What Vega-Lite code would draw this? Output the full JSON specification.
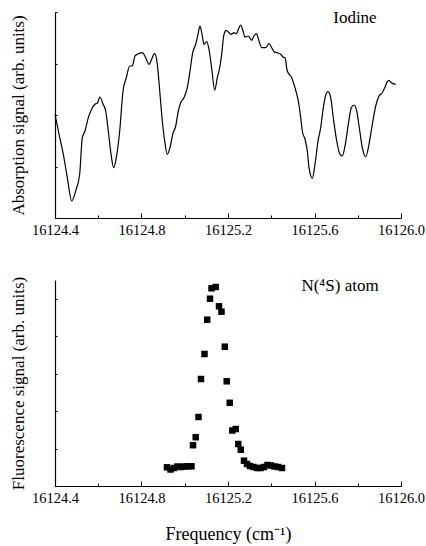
{
  "$schema": "https://vega.github.io/schema/vega-lite/v6.json",
  "background": "white",
  "padding": {"left": 9, "top": 8, "right": 0, "bottom": 0},
  "spacing": 37,
  "config": {
    "view": {"stroke": null},
    "font": "Liberation Serif",
    "text": {"font": "Liberation Serif"},
    "axis": {
      "domainColor": "black",
      "domainWidth": 1.2,
      "tickColor": "black",
      "tickWidth": 1,
      "grid": false,
      "labelFont": "Liberation Serif",
      "labelFontSize": 14.5,
      "labelColor": "black",
      "titleFont": "Liberation Serif",
      "titleFontWeight": "normal",
      "titleColor": "black"
    }
  },
  "datasets": {
    "iodine": [
      {"f": 16124.4000, "s": 103.7}, {"f": 16124.4185, "s": 84}, {"f": 16124.4416, "s": 60}, {"f": 16124.4569, "s": 40.3},
      {"f": 16124.4772, "s": 17}, {"f": 16124.4957, "s": 27}, {"f": 16124.5142, "s": 44}, {"f": 16124.5262, "s": 80.3},
      {"f": 16124.5387, "s": 87}, {"f": 16124.5540, "s": 100.3}, {"f": 16124.5725, "s": 110.3}, {"f": 16124.5882, "s": 114.3},
      {"f": 16124.5975, "s": 115.3}, {"f": 16124.6067, "s": 121}, {"f": 16124.6220, "s": 114}, {"f": 16124.6345, "s": 107},
      {"f": 16124.6465, "s": 87}, {"f": 16124.6590, "s": 64}, {"f": 16124.6714, "s": 50.3}, {"f": 16124.6835, "s": 60.3},
      {"f": 16124.6992, "s": 87}, {"f": 16124.7145, "s": 127}, {"f": 16124.7297, "s": 140.3}, {"f": 16124.7454, "s": 152},
      {"f": 16124.7575, "s": 152}, {"f": 16124.7699, "s": 162}, {"f": 16124.7806, "s": 163.7}, {"f": 16124.8037, "s": 165.3},
      {"f": 16124.8194, "s": 160.3}, {"f": 16124.8347, "s": 153.7}, {"f": 16124.8499, "s": 160.3}, {"f": 16124.8610, "s": 164.7},
      {"f": 16124.8731, "s": 153.7}, {"f": 16124.8856, "s": 123.7}, {"f": 16124.8962, "s": 97}, {"f": 16124.9073, "s": 77},
      {"f": 16124.9193, "s": 63.7}, {"f": 16124.9318, "s": 70.3}, {"f": 16124.9443, "s": 83.7}, {"f": 16124.9582, "s": 92},
      {"f": 16124.9702, "s": 107}, {"f": 16124.9813, "s": 115.3}, {"f": 16124.9965, "s": 120.3}, {"f": 16125.0118, "s": 130.3},
      {"f": 16125.0243, "s": 147}, {"f": 16125.0368, "s": 165.3}, {"f": 16125.0506, "s": 173.7}, {"f": 16125.0613, "s": 183.7},
      {"f": 16125.0705, "s": 192}, {"f": 16125.0798, "s": 183.7}, {"f": 16125.0890, "s": 173.7}, {"f": 16125.1015, "s": 176.3},
      {"f": 16125.1135, "s": 167}, {"f": 16125.1260, "s": 147}, {"f": 16125.1385, "s": 127.7}, {"f": 16125.1505, "s": 140.3},
      {"f": 16125.1630, "s": 152}, {"f": 16125.1707, "s": 163.7}, {"f": 16125.1815, "s": 183.7}, {"f": 16125.1921, "s": 187.7},
      {"f": 16125.2046, "s": 185.3}, {"f": 16125.2153, "s": 183.7}, {"f": 16125.2277, "s": 185.3}, {"f": 16125.2384, "s": 184.3},
      {"f": 16125.2509, "s": 190.3}, {"f": 16125.2587, "s": 193}, {"f": 16125.2694, "s": 187}, {"f": 16125.2786, "s": 181},
      {"f": 16125.2939, "s": 182}, {"f": 16125.3096, "s": 177.7}, {"f": 16125.3202, "s": 182}, {"f": 16125.3309, "s": 184.3},
      {"f": 16125.3434, "s": 177}, {"f": 16125.3559, "s": 170.3}, {"f": 16125.3744, "s": 170.3}, {"f": 16125.3896, "s": 174.3},
      {"f": 16125.4021, "s": 170.3}, {"f": 16125.4127, "s": 166.3}, {"f": 16125.4280, "s": 165.3}, {"f": 16125.4437, "s": 163.7},
      {"f": 16125.4543, "s": 161}, {"f": 16125.4636, "s": 160.3}, {"f": 16125.4742, "s": 147}, {"f": 16125.4946, "s": 140.3},
      {"f": 16125.5098, "s": 130.3}, {"f": 16125.5251, "s": 117}, {"f": 16125.5362, "s": 100.3}, {"f": 16125.5436, "s": 87},
      {"f": 16125.5561, "s": 78.7}, {"f": 16125.5667, "s": 67}, {"f": 16125.5746, "s": 50.3}, {"f": 16125.5898, "s": 39.7},
      {"f": 16125.6023, "s": 53.7}, {"f": 16125.6162, "s": 77}, {"f": 16125.6287, "s": 90.3}, {"f": 16125.6407, "s": 110.3},
      {"f": 16125.6532, "s": 123.7}, {"f": 16125.6624, "s": 126.3}, {"f": 16125.6749, "s": 120.3}, {"f": 16125.6869, "s": 100.3},
      {"f": 16125.7027, "s": 77}, {"f": 16125.7179, "s": 63.7}, {"f": 16125.7286, "s": 62}, {"f": 16125.7425, "s": 73.7},
      {"f": 16125.7563, "s": 93.7}, {"f": 16125.7702, "s": 110.3}, {"f": 16125.7827, "s": 113}, {"f": 16125.7952, "s": 107},
      {"f": 16125.8072, "s": 90.3}, {"f": 16125.8211, "s": 70.3}, {"f": 16125.8368, "s": 61}, {"f": 16125.8520, "s": 73.7},
      {"f": 16125.8673, "s": 93.7}, {"f": 16125.8830, "s": 112}, {"f": 16125.8983, "s": 122}, {"f": 16125.9135, "s": 125.3},
      {"f": 16125.9246, "s": 130.3}, {"f": 16125.9367, "s": 136.3}, {"f": 16125.9432, "s": 137.7}, {"f": 16125.9552, "s": 135.3},
      {"f": 16125.9755, "s": 133.7}
    ],
    "fluor": [
      {"f": 16124.9179, "s": 18.7}, {"f": 16124.9341, "s": 16.5}, {"f": 16124.9503, "s": 18}, {"f": 16124.9665, "s": 19.5},
      {"f": 16124.9827, "s": 19}, {"f": 16124.9988, "s": 19.5}, {"f": 16125.0150, "s": 19.7}, {"f": 16125.0312, "s": 19.7},
      {"f": 16125.0382, "s": 40.8}, {"f": 16125.0506, "s": 48.8}, {"f": 16125.0636, "s": 69}, {"f": 16125.0751, "s": 107},
      {"f": 16125.0913, "s": 132}, {"f": 16125.1038, "s": 166.3}, {"f": 16125.1168, "s": 187.3}, {"f": 16125.1237, "s": 197.7},
      {"f": 16125.1431, "s": 199}, {"f": 16125.1584, "s": 179.7}, {"f": 16125.1699, "s": 174.3}, {"f": 16125.1852, "s": 139.3},
      {"f": 16125.1940, "s": 104.7}, {"f": 16125.2079, "s": 83.2}, {"f": 16125.2199, "s": 55.5}, {"f": 16125.2356, "s": 57},
      {"f": 16125.2476, "s": 42}, {"f": 16125.2592, "s": 36.3}, {"f": 16125.2740, "s": 25.3}, {"f": 16125.2879, "s": 22},
      {"f": 16125.3017, "s": 20}, {"f": 16125.3179, "s": 19}, {"f": 16125.3341, "s": 18}, {"f": 16125.3503, "s": 18},
      {"f": 16125.3665, "s": 19}, {"f": 16125.3827, "s": 21}, {"f": 16125.3988, "s": 20.5}, {"f": 16125.4150, "s": 19.5},
      {"f": 16125.4312, "s": 19}, {"f": 16125.4497, "s": 18}
    ]
  },
  "vconcat": [
    {
      "width": 346,
      "height": 206,
      "layer": [
        {
          "data": {"name": "iodine"},
          "mark": {"type": "line", "color": "black", "strokeWidth": 1.2, "interpolate": "monotone"},
          "encoding": {
            "x": {
              "field": "f", "type": "quantitative",
              "scale": {"domain": [16124.4, 16126.0], "nice": false, "zero": false},
              "axis": {
                "title": null,
                "values": [16124.4, 16124.6, 16124.8, 16125.0, 16125.2, 16125.4, 16125.6, 16125.8, 16126.0],
                "labelExpr": "round(datum.value*10) % 4 == 0 ? format(datum.value, '.1f') : ''",
                "tickSize": {"condition": {"test": "round(datum.value*10) % 4 == 0", "value": -5}, "value": -3},
                "labelPadding": 10,
                "labelBaseline": "top",
                "labelFlush": false,
                "labelOverlap": false
              }
            },
            "y": {
              "field": "s", "type": "quantitative",
              "scale": {"domain": [0, 206], "nice": false, "zero": false},
              "axis": {
                "title": "Absorption signal (arb. units)",
                "titleFontSize": 17,
                "titlePadding": 27,
                "labels": false,
                "tickSize": -2,
                "values": [0, 12.875, 25.75, 38.625, 51.5, 64.375, 77.25, 90.125, 103, 115.875, 128.75, 141.625, 154.5, 167.375, 180.25, 193.125, 206]
              }
            }
          }
        },
        {
          "data": {"values": [{"label": "Iodine"}]},
          "mark": {"type": "text", "font": "Liberation Serif", "fontSize": 17, "color": "black", "align": "center", "baseline": "alphabetic"},
          "encoding": {
            "x": {"datum": 16125.787, "type": "quantitative"},
            "y": {"datum": 195, "type": "quantitative"},
            "text": {"field": "label"}
          }
        }
      ]
    },
    {
      "width": 346,
      "height": 206,
      "layer": [
        {
          "data": {"name": "fluor"},
          "mark": {"type": "point", "shape": "square", "filled": true, "color": "black", "size": 42, "opacity": 1},
          "encoding": {
            "x": {
              "field": "f", "type": "quantitative",
              "scale": {"domain": [16124.4, 16126.0], "nice": false, "zero": false},
              "axis": {
                "title": "Frequency (cm⁻¹)",
                "titleFontSize": 18,
                "titlePadding": 19,
                "values": [16124.4, 16124.6, 16124.8, 16125.0, 16125.2, 16125.4, 16125.6, 16125.8, 16126.0],
                "labelExpr": "round(datum.value*10) % 4 == 0 ? format(datum.value, '.1f') : ''",
                "tickSize": {"condition": {"test": "round(datum.value*10) % 4 == 0", "value": -5}, "value": -3},
                "labelPadding": 10,
                "labelBaseline": "top",
                "labelFlush": false,
                "labelOverlap": false
              }
            },
            "y": {
              "field": "s", "type": "quantitative",
              "scale": {"domain": [0, 206], "nice": false, "zero": false},
              "axis": {
                "title": "Fluorescence signal (arb. units)",
                "titleFontSize": 17,
                "titlePadding": 27,
                "labels": false,
                "tickSize": -2,
                "values": [0, 18.727, 37.455, 56.182, 74.909, 93.636, 112.364, 131.091, 149.818, 168.545, 187.273, 206]
              }
            }
          }
        },
        {
          "data": {"values": [{"label": "N(⁴S) atom"}]},
          "mark": {"type": "text", "font": "Liberation Serif", "fontSize": 17, "color": "black", "align": "center", "baseline": "alphabetic"},
          "encoding": {
            "x": {"datum": 16125.718, "type": "quantitative"},
            "y": {"datum": 195, "type": "quantitative"},
            "text": {"field": "label"}
          }
        }
      ]
    }
  ]
}
